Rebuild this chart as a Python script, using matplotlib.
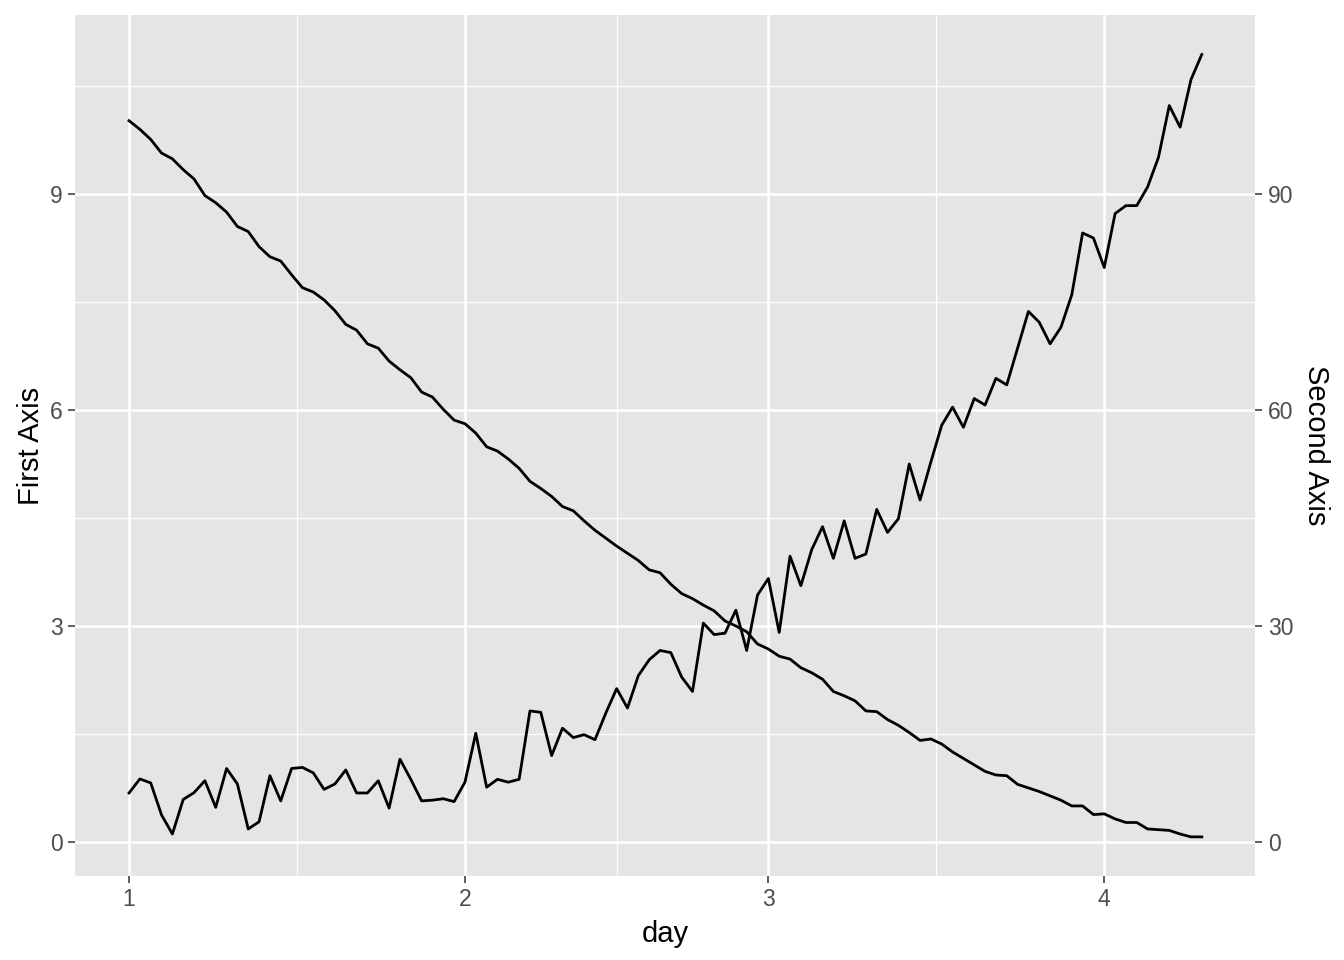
import matplotlib
matplotlib.use("Agg")
import matplotlib.pyplot as plt
import matplotlib.dates as mdates
import numpy as np
import pandas as pd

plt.rcParams['font.family'] = ['Liberation Sans', 'DejaVu Sans']

# one point per day, 1 Jan to 10 Apr
days = pd.date_range('2019-01-01', periods=100, freq='D')

first_axis = [10.02, 9.90, 9.76, 9.57, 9.49, 9.34, 9.21, 8.98, 8.88, 8.75,
              8.55, 8.48, 8.27, 8.13, 8.07, 7.88, 7.70, 7.64, 7.53, 7.38,
              7.19, 7.11, 6.92, 6.86, 6.68, 6.56, 6.45, 6.25, 6.18, 6.01,
              5.86, 5.81, 5.68, 5.49, 5.43, 5.32, 5.19, 5.01, 4.91, 4.80,
              4.66, 4.60, 4.46, 4.33, 4.22, 4.11, 4.01, 3.91, 3.78, 3.74,
              3.58, 3.45, 3.38, 3.29, 3.21, 3.07, 3.00, 2.92, 2.75, 2.68,
              2.58, 2.54, 2.42, 2.35, 2.26, 2.09, 2.03, 1.96, 1.82, 1.81,
              1.70, 1.62, 1.52, 1.41, 1.43, 1.36, 1.25, 1.16, 1.07, 0.98,
              0.93, 0.92, 0.80, 0.75, 0.70, 0.64, 0.58, 0.50, 0.50, 0.38,
              0.39, 0.32, 0.27, 0.27, 0.18, 0.17, 0.16, 0.11, 0.07, 0.07]

second_axis = [6.8, 8.75, 8.2, 3.75, 1.1, 5.9, 6.85, 8.5, 4.8, 10.2,
               8.05, 1.8, 2.8, 9.2, 5.7, 10.2, 10.35, 9.6, 7.3, 8.05,
               10.0, 6.8, 6.8, 8.5, 4.7, 11.5, 8.7, 5.7, 5.8, 6.0,
               5.6, 8.3, 15.1, 7.6, 8.7, 8.3, 8.7, 18.2, 18.0, 12.0,
               15.8, 14.5, 14.9, 14.2, 17.9, 21.3, 18.6, 23.1, 25.3, 26.6,
               26.3, 22.9, 20.9, 30.4, 28.8, 29.0, 32.2, 26.6, 34.3, 36.6,
               29.1, 39.7, 35.6, 40.6, 43.8, 39.4, 44.6, 39.4, 40.0, 46.2,
               43.0, 44.9, 52.5, 47.5, 52.8, 57.9, 60.4, 57.6, 61.6, 60.7,
               64.4, 63.5, 68.6, 73.7, 72.2, 69.2, 71.5, 76.0, 84.6, 83.9,
               79.8, 87.3, 88.4, 88.4, 91.0, 95.1, 102.3, 99.3, 105.9, 109.4]

scale = 10  # second axis = first axis * 10

fig = plt.figure(figsize=(13.44, 9.6), dpi=100)
ax = fig.add_axes([0.0561, 0.0875, 0.878, 0.8965])
ax.set_facecolor('#E5E5E5')

ax.plot(days, first_axis, color='black', lw=2.0)
ax.plot(days, np.array(second_axis) / scale, color='black', lw=2.0)
ax.margins(x=0.05, y=0.05)

# x axis: month starts as breaks, minor grid halfway between them
month_starts = pd.date_range('2019-01-01', periods=4, freq='MS')
major = mdates.date2num(month_starts)
minor = (major[:-1] + major[1:]) / 2
ax.set_xticks(major)
ax.set_xticklabels([str(d.month) for d in month_starts])
ax.set_xticks(minor, minor=True)

ax.set_yticks([0, 3, 6, 9])
ax.set_yticks([1.5, 4.5, 7.5, 10.5], minor=True)

ax.grid(which='major', color='white', lw=1.8)
ax.grid(which='minor', color='white', lw=0.9)
ax.set_axisbelow(True)

for s in ax.spines.values():
    s.set_visible(False)
ax.tick_params(which='major', length=5, width=1.1, color='#333333',
               labelcolor='#4D4D4D', labelsize=16.5, pad=4)
ax.tick_params(which='minor', length=0)

ax.set_xlabel('day', fontsize=21, labelpad=6)
ax.set_ylabel('First Axis', fontsize=21, labelpad=4)

sec = ax.secondary_yaxis('right', functions=(lambda v: v * scale, lambda v: v / scale))
sec.set_yticks([0, 30, 60, 90])
for s in sec.spines.values():
    s.set_visible(False)
sec.tick_params(length=5, width=1.1, color='#333333', labelcolor='#4D4D4D',
                labelsize=16.5, pad=4)
sec.set_ylabel('Second Axis', fontsize=21, rotation=270, labelpad=26)

fig.savefig('out.png', dpi=100)
